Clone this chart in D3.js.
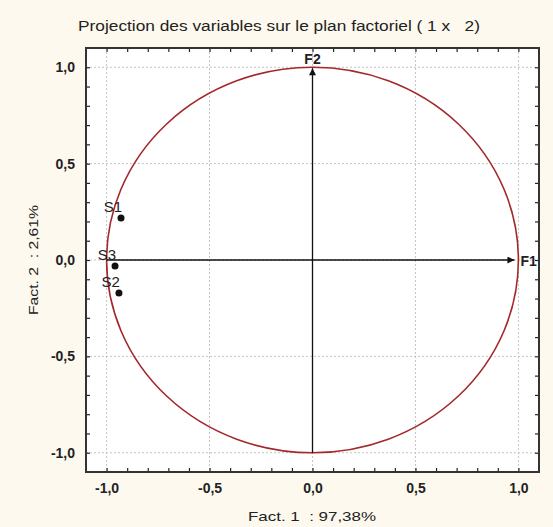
<!DOCTYPE html>
<html>
<head>
<meta charset="utf-8">
<script src="https://cdn.jsdelivr.net/npm/d3@7"></script>
<style>
  body { margin: 0; background: #fdf9ee; }
  svg { display: block; font-family: "Liberation Sans", Arial, sans-serif; }
</style>
</head>
<body>
<svg id="chart"></svg>
<script>
// variables projetees sur F1 x F2
let variableNames = ["S1", "S3", "S2"];
let fact1Values = [-0.93, -0.959, -0.94];
let fact2Values = [0.218, -0.031, -0.171];

let majorTicks = [-1.0, -0.5, 0.0, 0.5, 1.0];
let axisDomain = [-1.1, 1.1];

let chartTitle = "Projection des variables sur le plan factoriel ( 1 x   2)";
let xTitle = "Fact. 1  : 97,38%";
let yTitle = "Fact. 2  : 2,61%";

let W = 553, H = 527;
let margin = { top: 48, right: 14, bottom: 55, left: 86 },
    width = W - margin.left - margin.right,
    height = H - margin.top - margin.bottom;

let svg = d3.select('#chart')
    .attr('width', W)
    .attr('height', H);

svg.append('rect')
    .attr('width', W).attr('height', H)
    .attr('fill', '#fdf9ee');

let g = svg.append('g')
    .attr('transform', `translate(${margin.left}, ${margin.top})`);

let x = d3.scaleLinear().domain(axisDomain).range([0, width]);
let y = d3.scaleLinear().domain(axisDomain).range([height, 0]);

let fmt = d => d3.format('.1f')(d).replace('.', ',').replace('−', '-');
let keepSpaces = s => s.replace(/ /g, '\u00a0');

g.append('rect')
    .attr('width', width).attr('height', height)
    .attr('fill', 'white');

// dotted grid on major ticks
g.selectAll('.vgrid').data(majorTicks).enter().append('line')
    .attr('x1', d => x(d)).attr('x2', d => x(d))
    .attr('y1', 0).attr('y2', height)
    .attr('stroke', '#c4c4c4').attr('stroke-width', 1)
    .attr('stroke-dasharray', '2,2');

g.selectAll('.hgrid').data(majorTicks).enter().append('line')
    .attr('y1', d => y(d)).attr('y2', d => y(d))
    .attr('x1', 0).attr('x2', width)
    .attr('stroke', '#c4c4c4').attr('stroke-width', 1)
    .attr('stroke-dasharray', '2,2');

// axes with inward ticks on all sides
let minor = d3.range(-10, 11).map(i => i / 10);

let tickStyle = function (sel) {
    sel.select('.domain').remove();
    sel.selectAll('line').attr('stroke', '#222').attr('stroke-width', 1.2);
    sel.selectAll('text')
        .attr('fill', '#222')
        .style('font-size', '14px')
        .style('font-weight', '600');
};

g.append('g')
    .attr('transform', `translate(0, ${height})`)
    .call(d3.axisBottom(x).tickValues(minor).tickSizeInner(-4).tickFormat(''))
    .call(tickStyle);

g.append('g')
    .attr('transform', `translate(0, ${height})`)
    .call(d3.axisBottom(x).tickValues(majorTicks).tickSize(0).tickPadding(11).tickFormat(fmt))
    .call(tickStyle);

g.append('g')
    .call(d3.axisTop(x).tickValues(minor).tickSizeInner(-4).tickFormat(''))
    .call(tickStyle);

g.append('g')
    .call(d3.axisLeft(y).tickValues(minor).tickSizeInner(-4).tickFormat(''))
    .call(tickStyle);

g.append('g')
    .call(d3.axisLeft(y).tickValues(majorTicks).tickSize(0).tickPadding(11).tickFormat(fmt))
    .call(tickStyle);

g.append('g')
    .attr('transform', `translate(${width}, 0)`)
    .call(d3.axisRight(y).tickValues(minor).tickSizeInner(-4).tickFormat(''))
    .call(tickStyle);

// frame
g.append('rect')
    .attr('width', width).attr('height', height)
    .attr('fill', 'none')
    .attr('stroke', '#333').attr('stroke-width', 2);

// correlation circle
g.append('ellipse')
    .attr('cx', x(0)).attr('cy', y(0))
    .attr('rx', x(1) - x(0)).attr('ry', y(0) - y(1))
    .attr('fill', 'none')
    .attr('stroke', '#a3282b').attr('stroke-width', 1.6);

// factor arrows
svg.append('defs').append('marker')
    .attr('id', 'arrow')
    .attr('viewBox', '0 0 10 10')
    .attr('refX', 10).attr('refY', 5)
    .attr('markerWidth', 10).attr('markerHeight', 7)
    .attr('markerUnits', 'userSpaceOnUse')
    .attr('orient', 'auto')
    .append('path')
    .attr('d', 'M0,0 L10,5 L0,10 Z')
    .attr('fill', '#111');

g.append('line')
    .attr('x1', x(-1)).attr('x2', x(1) - 4)
    .attr('y1', y(0)).attr('y2', y(0))
    .attr('stroke', '#111').attr('stroke-width', 1.3)
    .attr('marker-end', 'url(#arrow)');

g.append('line')
    .attr('x1', x(0)).attr('x2', x(0))
    .attr('y1', y(-1)).attr('y2', y(1) + 1)
    .attr('stroke', '#111').attr('stroke-width', 1.3)
    .attr('marker-end', 'url(#arrow)');

g.append('text')
    .attr('x', x(1) + 2).attr('y', y(0) + 6)
    .style('font-size', '14px').style('font-weight', 'bold')
    .attr('fill', '#222')
    .text('F1');

g.append('text')
    .attr('x', x(0)).attr('y', y(1) - 3)
    .attr('text-anchor', 'middle')
    .style('font-size', '14px').style('font-weight', 'bold')
    .attr('fill', '#222')
    .text('F2');

// variable points
let points = variableNames.map((n, i) => ({ name: n, f1: fact1Values[i], f2: fact2Values[i] }));

g.selectAll('.pt').data(points).enter().append('circle')
    .attr('cx', d => x(d.f1))
    .attr('cy', d => y(d.f2))
    .attr('r', 3.5)
    .attr('fill', '#111');

g.selectAll('.lbl').data(points).enter().append('text')
    .attr('x', d => x(d.f1) + 1)
    .attr('y', d => y(d.f2) - 6)
    .attr('text-anchor', 'end')
    .style('font-size', '15px')
    .attr('fill', '#222')
    .text(d => d.name);

// titles (texte un peu etire comme dans l'original)
svg.append('text')
    .attr('x', 78).attr('y', 31)
    .attr('textLength', 402)
    .attr('lengthAdjust', 'spacingAndGlyphs')
    .style('font-size', '14px')
    .attr('fill', '#222')
    .text(keepSpaces(chartTitle));

svg.append('text')
    .attr('x', 248).attr('y', 521)
    .attr('textLength', 128)
    .attr('lengthAdjust', 'spacingAndGlyphs')
    .style('font-size', '13.5px')
    .attr('fill', '#222')
    .text(keepSpaces(xTitle));

svg.append('text')
    .attr('transform', `translate(38, 315) rotate(-90)`)
    .attr('textLength', 110)
    .attr('lengthAdjust', 'spacingAndGlyphs')
    .style('font-size', '13.5px')
    .attr('fill', '#222')
    .text(keepSpaces(yTitle));
</script>
</body>
</html>
